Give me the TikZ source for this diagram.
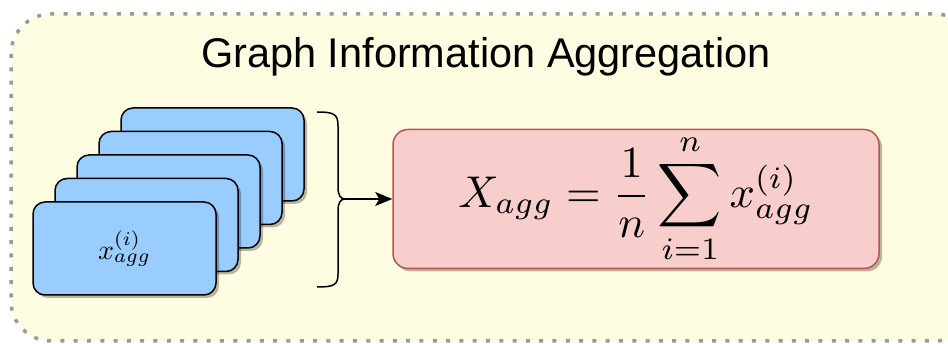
\documentclass[tikz,border=0pt]{standalone}
\usepackage{amsmath}
\usepackage{graphicx}
\usepackage{fontspec}
\newfontfamily\titlefont{Liberation Sans}
\usetikzlibrary{shadows,arrows.meta}
\definecolor{panelfill}{HTML}{FFFDE1}
\definecolor{panelline}{HTML}{9A9A9A}
\definecolor{cardfill}{HTML}{99CCFF}
\definecolor{sumfill}{HTML}{F8CECC}
\definecolor{sumline}{HTML}{B85450}
\tikzset{
  panel/.style={draw=panelline, fill=panelfill, line width=3.5pt,
    dash pattern=on 4pt off 9.3pt, rounded corners=40pt},
  card/.style={draw=black, fill=cardfill, line width=1.5pt, rounded corners=12pt,
    minimum width=183pt, minimum height=93pt, inner sep=0pt,
    drop shadow={shadow xshift=3pt, shadow yshift=-3pt, fill=black, opacity=0.28}},
  sumbox/.style={draw=sumline, fill=sumfill, line width=1.5pt, rounded corners=15pt,
    minimum width=486pt, minimum height=139pt, inner sep=0pt,
    drop shadow={shadow xshift=3pt, shadow yshift=-3pt, fill=black, opacity=0.28}},
  bracepath/.style={draw=black, line width=1.5pt},
  flow/.style={draw=black, line width=1.5pt, -{Stealth[length=17pt,width=14pt,inset=4pt]}}
}
\begin{document}
\begin{tikzpicture}[x=1pt, y=-1pt]
  \useasboundingbox (0,0) rectangle (948,344);
  % dotted container
  \path[panel] (11,14) rectangle (975,341);
  % title
  \node[anchor=base, inner sep=0pt, font=\titlefont\fontsize{41.5}{46}\selectfont]
    (title) at (486,68) {Graph Information Aggregation};
  % stacked feature cards, back to front
  \node[card] (c1) at (212.5,154.5) {};
  \node[card] (c2) at (190.5,178) {};
  \node[card] (c3) at (168.5,201.5) {};
  \node[card] (c4) at (146.5,225) {};
  \node[card] (c5) at (124.5,248.5) {\scalebox{2.8}{$x_{agg}^{(i)}$}};
  % curly brace gathering the cards
  \coordinate (btop) at (317,112);
  \coordinate (bbot) at (317,287);
  \coordinate (btip) at (345,199);
  \draw[bracepath] (btop) .. controls (334,112) and (338,114) .. (338,126)
    -- (338,187) .. controls (338,196) and (341,199) .. (btip)
    .. controls (341,199) and (338,202) .. (338,211)
    -- (338,274) .. controls (338,285) and (334,287) .. (bbot);
  % aggregation formula
  \node[sumbox] (agg) at (636,199)
    {\scalebox{4.45}{$\displaystyle X_{agg} = \frac{1}{n}\sum_{i=1}^{n} x_{agg}^{(i)}$}};
  \draw[flow] (btip) -- (agg.west);
\end{tikzpicture}
\end{document}
